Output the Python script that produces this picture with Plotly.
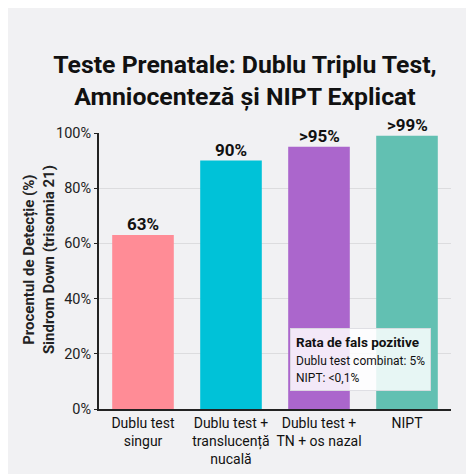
import plotly.graph_objects as go

categories = ["Dublu test<br>singur", "Dublu test +<br>translucență<br>nucală", "Dublu test +<br>TN + os nazal", "NIPT"]
detection = [63, 90, 95, 99]
value_labels = ["63%", "90%", ">95%", ">99%"]
bar_colors = ["#ff8c96", "#00c2d8", "#ab66cc", "#62c0b2"]
y_ticks = [0, 20, 40, 60, 80, 100]

fig = go.Figure()
fig.add_trace(go.Bar(
    x=categories, y=detection,
    marker=dict(color=bar_colors, line=dict(width=0)),
    showlegend=False,
))

# value labels sit a bit closer to the bars than plotly's "outside" text
for cat, val, lab in zip(categories, detection, value_labels):
    fig.add_annotation(
        x=cat, y=val, text=f"<b>{lab}</b>", showarrow=False,
        yanchor="bottom", yshift=-1,
        font=dict(family="Roboto", size=17, color="#111111"),
    )

# page is drawn with an 8px body offset, so margins compensate
fig.update_layout(
    width=474, height=474,
    margin=dict(l=91, r=31, t=125, b=73, autoexpand=False),
    paper_bgcolor="#f1f1f3", plot_bgcolor="#f1f1f3",
    font=dict(family="Roboto", color="#222222"),
    bargap=0.3,
    showlegend=False,
    title=dict(
        text="<b>Teste Prenatale: Dublu Triplu Test,<br>Amniocenteză și NIPT Explicat</b>",
        x=0.5, xanchor="center", y=0.863, yanchor="middle",
        font=dict(family="Roboto", size=24.8, color="#111111"),
    ),
)
fig.update_yaxes(
    range=[0, 100], tickvals=y_ticks, ticktext=[f"{v}%" for v in y_ticks],
    showgrid=True, gridcolor="#dcdcde", gridwidth=1,
    showline=True, linecolor="#222222", linewidth=2,
    ticks="outside", ticklen=3, tickcolor="#222222",
    tickfont=dict(size=14.5, color="#222222"), zeroline=False, automargin=False,
)
fig.update_xaxes(
    showline=True, linecolor="#222222", linewidth=2, tickangle=0, automargin=False,
    tickfont=dict(size=14, color="#111111"), ticks="",
)

fig.add_annotation(
    xref="paper", yref="paper", x=-0.17, y=0.54, xanchor="center", yanchor="middle",
    text="<b>Procentul de Detecție (%)<br>Sindrom Down (trisomia 21)</b>",
    textangle=-90, showarrow=False,
    font=dict(family="Roboto", size=15, color="#222222"),
)

fig.add_annotation(
    xref="paper", yref="paper", x=0.744, y=0.18, xanchor="center", yanchor="middle",
    text="<b>Rata de fals pozitive</b><br><span style='font-size:12px'>Dublu test combinat: 5%<br>NIPT: <0,1%</span>",
    showarrow=False, align="left",
    font=dict(family="Roboto", size=13.5, color="#111111"),
    bgcolor="rgba(255,255,255,0.85)", bordercolor="rgba(220,220,225,0.9)", borderwidth=1, borderpad=5,
)

fig.write_html("out.html")
